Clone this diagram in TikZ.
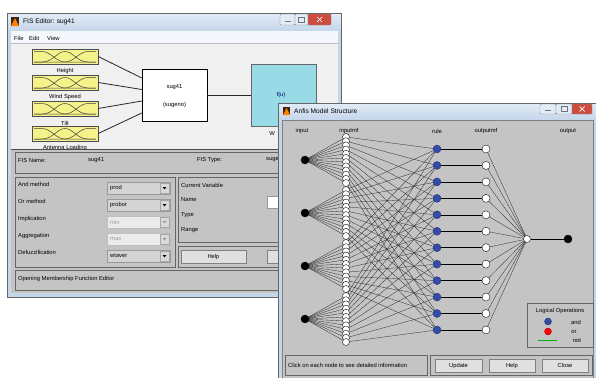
\documentclass[tikz,border=0pt]{standalone}
\usepackage{fontspec}
\setmainfont{Liberation Sans}
\usetikzlibrary{calc}
\pgfdeclarelayer{background}
\pgfdeclarelayer{foreground}
\pgfsetlayers{background,main,foreground}

\definecolor{winframe}{RGB}{196,214,234}
\definecolor{wintitle}{RGB}{226,236,247}
\definecolor{canvas}{RGB}{240,240,240}
\definecolor{panelgrey}{RGB}{196,196,196}
\definecolor{mfyellow}{RGB}{246,242,138}
\definecolor{fcyan}{RGB}{152,218,230}
\definecolor{ruleblue}{RGB}{52,76,168}
\definecolor{closered}{RGB}{206,76,62}

\begin{document}
\begin{tikzpicture}[x=1pt,y=-1pt,
  txt/.style={font=\fontsize{5.8}{6.5}\selectfont,inner sep=0pt},
  lbl/.style={txt,anchor=west},
  ttl/.style={font=\fontsize{6.6}{7.5}\selectfont,inner sep=0pt,anchor=west},
  panelline/.style={draw=black!60,line width=.6pt},
  winbtn/.style={draw=black!45,fill=wintitle,rounded corners=1pt},
  glyph/.style={black!55,line width=.6pt},
  pushbtn/.style={draw=black!50,fill=black!12},
  mfbox/.style={draw=black!70,fill=mfyellow,minimum width=66pt,minimum height=15pt,inner sep=0pt},
  sysbox/.style={draw=black,fill=white,minimum width=65pt,minimum height=52pt,inner sep=0pt},
  outbox/.style={draw=black!60,fill=fcyan,minimum width=65pt,minimum height=62pt,inner sep=0pt},
  conn/.style={black!85,line width=.8pt},
  dropon/.style={draw=black!40,fill=black!17,minimum width=63pt,minimum height=12pt,inner sep=0pt},
  dropoff/.style={draw=black!25,fill=black!8,minimum width=63pt,minimum height=12pt,inner sep=0pt},
  valon/.style={lbl},
  valoff/.style={lbl,text=black!40},
  trion/.style={black},
  trioff/.style={black!40},
  innode/.style={circle,fill=black,draw=black,minimum size=8pt,inner sep=0pt},
  mfnode/.style={circle,fill=white,draw=black,line width=.35pt,minimum size=7pt,inner sep=0pt},
  rulenode/.style={circle,fill=ruleblue,draw=ruleblue!60!black,line width=.3pt,minimum size=8pt,inner sep=0pt},
  omfnode/.style={circle,fill=white,draw=black,line width=.35pt,minimum size=8pt,inner sep=0pt},
  sumnode/.style={circle,fill=white,draw=black,line width=.35pt,minimum size=7pt,inner sep=0pt},
  link/.style={black!85,line width=.3pt},
  rlink/.style={black,line width=.6pt},
  mfcurves/.pic={
    \draw[black!75,line width=.5pt] (-31,-5) -- (-23,-5) .. controls (-14,-5) and (-9,5.5) .. (0,5.5) -- (31,5.5);
    \draw[black!75,line width=.5pt] (-31,5.5) -- (-23,5.5) .. controls (-12,5.5) and (-8,-5) .. (0,-5) .. controls (8,-5) and (12,5.5) .. (23,5.5) -- (31,5.5);
    \draw[black!75,line width=.5pt] (-31,5.5) -- (0,5.5) .. controls (9,5.5) and (14,-5) .. (23,-5) -- (31,-5);
  }]
\useasboundingbox (0,0) rectangle (596,378);

% FIS editor window
\fill[winframe] (7,13) rectangle (341,297);
\shade[top color=wintitle,bottom color=winframe] (7,13) rectangle (341,31);
\draw[black!60] (7,13) rectangle (341,297);
\fill[black!70!brown] (11,17) rectangle (19,26);
\fill[orange] (11,26) -- (15,18) -- (19,26) -- cycle;
\node[ttl] (fistitle) at (23,22) {FIS Editor: sug41};
\draw[winbtn] (280,14) rectangle (295,25);
\draw[glyph] (284.5,21.5) -- (290.5,21.5);
\draw[winbtn] (295,14) rectangle (308,25);
\draw[glyph,line width=.4pt] (298.5,16.8) rectangle (304.5,22);
\draw[winbtn,fill=closered] (308,14) rectangle (331,25);
\draw[white,line width=.7pt] (317,17) -- (322,22) (317,22) -- (322,17);
\fill[white!60!wintitle] (11,31) rectangle (338,43);
\node[lbl] (mfile) at (14,38) {File};
\node[lbl] (medit) at (29,38) {Edit};
\node[lbl] (mview) at (47,38) {View};
\fill[canvas] (11,43) rectangle (338,149);
\draw[black!25] (11,43) -- (338,43);

\foreach \nm/\lab/\yy in {ht/Height/56.5,ws/Wind Speed/82.5,tl/Tilt/108.5,al/Antenna Loading/133.5}{
  \node[mfbox] (\nm) at (65,\yy) {};
  \pic at (\nm) {mfcurves};
  \node[txt] (\nm lab) at (65,\yy+14.5) {\lab};
}
\node[sysbox] (sys) at (174.5,95) {};
\node[txt] (sysname) at ([yshift=8pt]sys.center) {sug41};
\node[txt] (systype) at ([yshift=-10pt]sys.center) {(sugeno)};
\node[outbox] (fout) at (283.5,95) {};
\node[txt,text=black!60!blue] (fu) at (281,95) {f(u)};
\node[txt] (outlab) at (272,133) {W};
\draw[conn] (ht.east) -- ([yshift=17pt]sys.west);
\draw[conn] (ws.east) -- ([yshift=5.5pt]sys.west);
\draw[conn] (tl.east) -- ([yshift=-6pt]sys.west);
\draw[conn] (al.east) -- ([yshift=-18pt]sys.west);
\draw[conn] (sys) -- (fout);

% lower part of the FIS editor
\fill[panelgrey] (11,149) rectangle (338,293);
\draw[black!70,line width=.6pt] (11,149) -- (338,149);
\draw[panelline] (15,152) rectangle (336,173);
\node[lbl] (fisname) at (18,160) {FIS Name:};
\node[lbl] (fisnameval) at (88,160) {sug41};
\node[lbl] (fistype) at (197,160) {FIS Type:};
\node[lbl] (fistypeval) at (266,160) {sugeno};
\draw[panelline] (15,177) rectangle (175,267);
\foreach \lab/\val/\yy/\st [count=\n] in {And method/prod/188/on,Or method/probor/205/on,Implication/min/222/off,Aggregation/max/239/off,Defuzzification/wtaver/256/on}{
  \node[lbl] (meth\n) at (18,\yy-3.5) {\lab};
  \node[drop\st] (drop\n) at (138.5,\yy) {};
  \node[val\st] (val\n) at (110,\yy) {\val};
  \node[draw=black!35,fill=white!85!black,minimum width=9pt,minimum height=10pt,inner sep=0pt] (arr\n) at (164.5,\yy) {};
  \fill[tri\st] ($(arr\n)+(-1.8,-0.8)$) -- ($(arr\n)+(1.8,-0.8)$) -- ($(arr\n)+(0,1.4)$) -- cycle;
}
\draw[panelline] (178,177) rectangle (336,242);
\node[lbl] (curvar) at (181,185) {Current Variable};
\node[lbl] (cvname) at (181,200) {Name};
\node[lbl] (cvtype) at (181,215) {Type};
\node[lbl] (cvrange) at (181,230) {Range};
\draw[draw=black!40,fill=white] (267,196) rectangle (330,208);
\draw[panelline] (178,246) rectangle (336,267);
\draw[pushbtn] (181,250) rectangle (246,263);
\node[txt] (fishelp) at (213.5,256.5) {Help};
\draw[pushbtn] (267,250) rectangle (330,263);
\node[txt] (fisclose) at (298.5,256.5) {Close};
\draw[panelline] (15,270) rectangle (336,290);
\node[lbl] (fisstatus) at (18,279) {Opening Membership Function Editor};

% ANFIS model structure window
\fill[winframe] (278,103) rectangle (596,378);
\shade[top color=wintitle,bottom color=winframe] (278,103) rectangle (596,120);
\draw[black!60] (278,378) -- (278,103) -- (596,103);
\fill[panelgrey] (282,120) rectangle (593,378);
\draw[black!50] (282,378) -- (282,120) -- (593,120) -- (593,378);
\fill[black!70!brown] (283,107) rectangle (290,115);
\fill[orange] (283,115) -- (286.5,108) -- (290,115) -- cycle;
\node[ttl] (anftitle) at (294,111) {Anfis Model Structure};
\draw[winbtn] (540,104) rectangle (556,114);
\draw[glyph] (545,110.5) -- (551,110.5);
\draw[winbtn] (556,104) rectangle (572,114);
\draw[glyph,line width=.4pt] (561,106.5) rectangle (567,111.5);
\draw[winbtn,fill=closered] (572,104) rectangle (592,114);
\draw[white,line width=.7pt] (579.5,106.5) -- (584.5,111.5) (579.5,111.5) -- (584.5,106.5);

\node[txt] (hin) at (302,131) {input};
\node[txt] (hinmf) at (349,131) {inputmf};
\node[txt] (hrule) at (437,131) {rule};
\node[txt] (houtmf) at (486,131) {outputmf};
\node[txt] (hout) at (568,131) {output};

\begin{pgfonlayer}{foreground}
  \foreach \k in {0,...,3}{
    \node[innode] (in\k) at (305,160+53*\k) {};
    \foreach \j in {0,...,11}{
      \pgfmathtruncatemacro\m{12*\k+\j}
      \node[mfnode] (mf\m) at (346,137+53*\k+4.18*\j) {};
    }
  }
  \foreach \i in {0,...,11}{
    \node[rulenode] (r\i) at (437,149+16.45*\i) {};
    \node[omfnode] (om\i) at (486,149+16.45*\i) {};
  }
  \node[sumnode] (sum) at (527,239) {};
  \node[innode] (out) at (568,239) {};
\end{pgfonlayer}

\foreach \k in {0,...,3}
  \foreach \j in {0,...,11}{
    \pgfmathtruncatemacro\m{12*\k+\j}
    \draw[link] (in\k.center) -- (mf\m.center);
  }
\foreach \i in {0,...,11}{
  \foreach \k in {0,...,3}{
    \pgfmathtruncatemacro\m{12*\k+\i}
    \draw[link] (mf\m.center) -- (r\i.center);
  }
  \draw[rlink] (r\i) -- (om\i);
  \draw[link] (om\i.center) -- (sum.center);
}
\draw[rlink] (sum) -- (out);

% legend
\draw[panelline] (527,303) rectangle (593,347);
\node[txt] (legtitle) at (560,311) {Logical Operations};
\node[rulenode,minimum size=7pt] (legand) at (548,321.5) {};
\node[circle,fill=red,draw=red!60!black,line width=.3pt,minimum size=7pt,inner sep=0pt] (legor) at (548,331.5) {};
\coordinate (notl) at (538,340.5);
\coordinate (notr) at (557,340.5);
\draw[green!70!black,line width=.6pt] (notl) -- (notr);
\node[txt] (legandt) at (576,322) {and};
\node[txt] (legort) at (574,331.5) {or};
\node[txt] (legnott) at (577,341) {not};

% bottom of the ANFIS window
\draw[panelline] (285,355) rectangle (427,375);
\node[lbl] (anfstatus) at (288,365) {Click on each node to see detailed information};
\draw[panelline] (430,355) rectangle (592,375);
\draw[pushbtn] (435,359) rectangle (482,372);
\node[txt] (bupdate) at (458.5,365.5) {Update};
\draw[pushbtn] (489,359) rectangle (535,372);
\node[txt] (bhelp) at (512,365.5) {Help};
\draw[pushbtn] (542,359) rectangle (588,372);
\node[txt] (bclose) at (565,365.5) {Close};
\end{tikzpicture}
\end{document}
